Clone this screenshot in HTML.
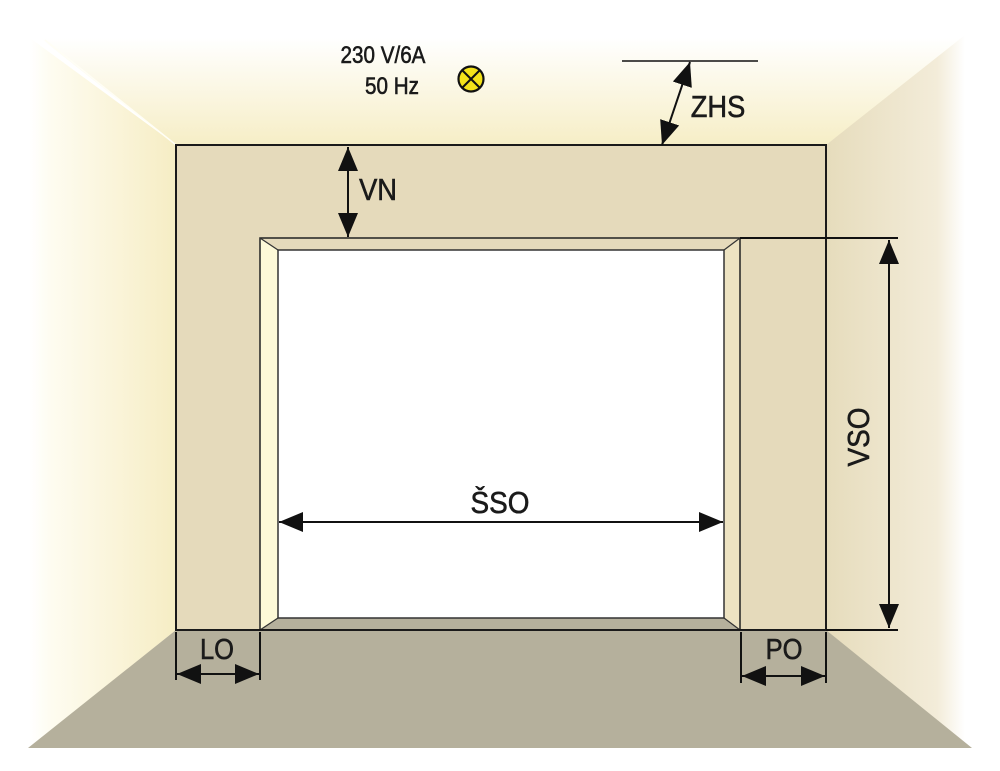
<!DOCTYPE html>
<html><head><meta charset="utf-8"><style>
html,body{margin:0;padding:0;background:#fff;}
svg{display:block;}
text{font-family:"Liberation Sans",sans-serif;fill:#1a1a1a;stroke:#1a1a1a;stroke-width:0.6;}
</style></head><body>
<svg width="1000" height="771" viewBox="0 0 1000 771" xmlns="http://www.w3.org/2000/svg">
<defs>
<linearGradient id="ceil" x1="0" y1="0" x2="0" y2="1">
<stop offset="0" stop-color="#ffffff"/><stop offset="1" stop-color="#f6eec6"/></linearGradient>
<linearGradient id="lw" x1="0" y1="0" x2="1" y2="0">
<stop offset="0" stop-color="#ffffff"/><stop offset="0.15" stop-color="#fefcf0"/><stop offset="1" stop-color="#f6edc4"/></linearGradient>
<linearGradient id="rw" x1="0" y1="0" x2="1" y2="0">
<stop offset="0" stop-color="#e6dcbc"/><stop offset="0.8" stop-color="#f3ecd9"/><stop offset="1" stop-color="#ffffff"/></linearGradient>
<marker id="ah" viewBox="0 0 24 20" refX="24" refY="10" markerWidth="24" markerHeight="20" markerUnits="userSpaceOnUse" orient="auto-start-reverse">
<path d="M0,0 L24,10 L0,20 Z" fill="#111"/></marker>
</defs>
<polygon points="40,38 965,38 826,145 176,145" fill="url(#ceil)"/>
<polygon points="30,38 176,145 176,630 30,748" fill="url(#lw)"/>
<line x1="45" y1="40" x2="176" y2="145" stroke="#fffef5" stroke-width="1.5"/>
<polygon points="826,145 965,35 965,748 826,630" fill="url(#rw)"/>
<polygon points="176,630 826,630 972,748 28,748" fill="#b5b09c"/>
<rect x="176" y="145" width="650" height="485" fill="#e5dabb" stroke="#1a1a1a" stroke-width="2"/>
<polygon points="260,238 740,238 724,250 278,250" fill="#e5dabb"/>
<polygon points="260,238 278,250 278,618 260,630" fill="#fdf9d8"/>
<polygon points="740,238 724,250 724,618 740,630" fill="#ede3c2"/>
<polygon points="278,618 724,618 740,630 260,630" fill="#b5b09c"/>
<rect x="278" y="250" width="446" height="368" fill="#fff" stroke="#333" stroke-width="1.5"/>
<polygon points="260,238 740,238 740,630 260,630" fill="none" stroke="#222" stroke-width="1.5"/>
<g stroke="#333" stroke-width="1.2">
<line x1="260" y1="238" x2="278" y2="250"/><line x1="740" y1="238" x2="724" y2="250"/>
<line x1="260" y1="630" x2="278" y2="618"/><line x1="740" y1="630" x2="724" y2="618"/>
</g>
<line x1="176" y1="630" x2="826" y2="630" stroke="#1a1a1a" stroke-width="2"/>
<g stroke="#111" stroke-width="2">
<line x1="740" y1="238" x2="898" y2="238"/>
<line x1="826" y1="630" x2="898" y2="630"/>
<line x1="889" y1="240" x2="889" y2="628" marker-start="url(#ah)" marker-end="url(#ah)"/>
<line x1="348" y1="147" x2="348" y2="237" marker-start="url(#ah)" marker-end="url(#ah)"/>
<line x1="622" y1="61" x2="758" y2="61" stroke-width="1.5"/>
<line x1="690" y1="62" x2="662" y2="145" marker-start="url(#ah)" marker-end="url(#ah)"/>
<line x1="279" y1="522" x2="723" y2="522" marker-start="url(#ah)" marker-end="url(#ah)"/>
<line x1="176" y1="632" x2="176" y2="680"/>
<line x1="260" y1="632" x2="260" y2="680"/>
<line x1="177" y1="674" x2="259" y2="674" marker-start="url(#ah)" marker-end="url(#ah)"/>
<line x1="741" y1="632" x2="741" y2="683"/>
<line x1="826" y1="632" x2="826" y2="683"/>
<line x1="742" y1="676" x2="825" y2="676" marker-start="url(#ah)" marker-end="url(#ah)"/>
</g>
<circle cx="471" cy="79" r="12.5" fill="#f3e21a" stroke="#111" stroke-width="2.2"/>
<g stroke="#111" stroke-width="2"><line x1="462" y1="70" x2="480" y2="88"/><line x1="480" y1="70" x2="462" y2="88"/></g>
<g font-size="24">
<text transform="translate(383,63) scale(0.86,1)" text-anchor="middle">230 V/6A</text>
<text transform="translate(392,94) scale(0.86,1)" text-anchor="middle">50 Hz</text>
</g>
<g font-size="31">
<text transform="translate(718,117) scale(0.88,1)" text-anchor="middle">ZHS</text>
<text transform="translate(378,200) scale(0.88,1)" text-anchor="middle">VN</text>
<text transform="translate(500,513) scale(0.9,1)" text-anchor="middle">ŠSO</text>
<text transform="translate(869,437) rotate(-90) scale(0.9,1)" text-anchor="middle">VSO</text>
<text transform="translate(217,659) scale(0.88,1)" text-anchor="middle" font-size="29">LO</text>
<text transform="translate(784,659) scale(0.88,1)" text-anchor="middle" font-size="29">PO</text>
</g>
</svg>
</body></html>
